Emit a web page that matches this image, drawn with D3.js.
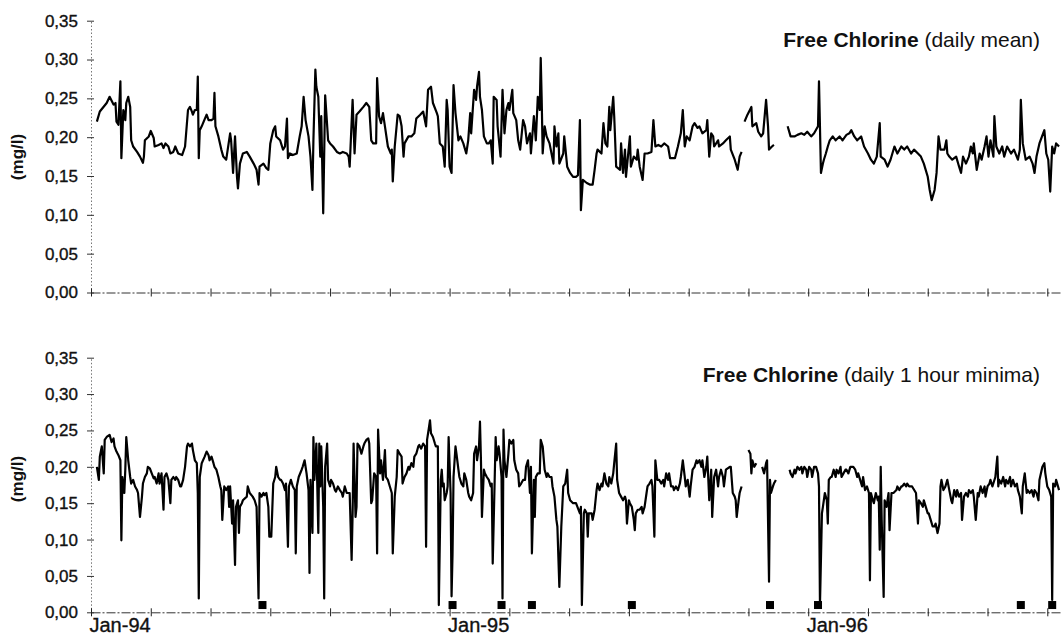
<!DOCTYPE html>
<html>
<head>
<meta charset="utf-8">
<script src="https://cdn.jsdelivr.net/npm/d3@7"></script>
<style>
  html, body { margin: 0; padding: 0; background: #fff; }
  svg { display: block; font-family: "Liberation Sans", Arial, Helvetica, sans-serif; }
</style>
</head>
<body>
<svg id="chart" width="1062" height="637"></svg>
<script>
// ---------------- DATA ----------------
// day offsets from 1 Jan 1994, values in mg/l
const startDate = "1994-01-01";

// Free chlorine, daily mean (three continuous segments)
const meanSeg1 = [[6,0.220],[9,0.233],[16,0.244],[19,0.252],[23,0.242],[25,0.244],[26,0.220],[28,0.216],[30,0.272],[31,0.173],[33,0.235],[35,0.222],[36,0.244],[38,0.252],[40,0.239],[41,0.196],[43,0.188],[47,0.181],[50,0.175],[53,0.167],[54,0.175],[55,0.196],[59,0.201],[61,0.208],[64,0.199],[65,0.188],[69,0.190],[72,0.192],[74,0.186],[76,0.192],[79,0.188],[81,0.179],[84,0.181],[86,0.188],[89,0.179],[93,0.177],[96,0.188],[99,0.235],[101,0.239],[103,0.233],[104,0.229],[106,0.235],[108,0.235],[109,0.278],[110,0.173],[111,0.209],[113,0.214],[115,0.220],[118,0.229],[120,0.222],[123,0.222],[125,0.224],[126,0.257],[127,0.214],[130,0.201],[133,0.184],[135,0.175],[138,0.171],[142,0.205],[143,0.196],[145,0.154],[147,0.201],[149,0.149],[150,0.134],[152,0.166],[155,0.179],[159,0.181],[162,0.175],[166,0.166],[169,0.158],[171,0.139],[172,0.162],[176,0.166],[179,0.160],[181,0.158],[183,0.192],[186,0.209],[188,0.214],[189,0.201],[193,0.196],[196,0.184],[198,0.188],[200,0.224],[201,0.173],[203,0.179],[206,0.177],[210,0.179],[213,0.201],[215,0.214],[217,0.252],[219,0.222],[222,0.201],[224,0.175],[226,0.132],[227,0.196],[229,0.287],[230,0.265],[232,0.252],[234,0.175],[235,0.227],[237,0.102],[239,0.254],[240,0.235],[242,0.196],[244,0.192],[247,0.188],[251,0.181],[254,0.179],[257,0.181],[261,0.179],[263,0.175],
[264,0.162],[267,0.248],[269,0.179],[271,0.229],[274,0.233],[278,0.239],[281,0.244],[284,0.239],[286,0.196],[288,0.192],[291,0.192],[292,0.276],[294,0.227],[296,0.218],[298,0.231],[300,0.214],[303,0.188],[306,0.179],[307,0.184],[308,0.143],[310,0.188],[313,0.229],[315,0.227],[317,0.214],[319,0.175],[320,0.192],[324,0.201],[327,0.201],[330,0.205],[332,0.224],[336,0.229],[339,0.233],[342,0.214],[344,0.261],[347,0.265],[349,0.244],[353,0.231],[354,0.227],[356,0.192],[359,0.188],[361,0.162],[363,0.248],[364,0.235],[366,0.162],[368,0.154],[370,0.267],[372,0.231],[375,0.196],[377,0.201],[380,0.192],[383,0.179],[385,0.196],[387,0.231],[388,0.205],[391,0.261],[393,0.248],[394,0.265],[396,0.284],[397,0.252],[399,0.235],[401,0.201],[404,0.192],[406,0.192],[408,0.196],[410,0.166],[411,0.252],[414,0.248],[415,0.214],[418,0.175],[420,0.261],[422,0.205],[424,0.235],[426,0.244],[427,0.235],[430,0.261],[431,0.231],[434,0.222],[436,0.196],[438,0.184],[441,0.222],[443,0.214],[445,0.192],[448,0.205],[449,0.179],[452,0.227],[454,0.196],[456,0.252],[458,0.235],[459,0.302],[460,0.248],[461,0.179],[463,0.214],[465,0.201],[468,0.192],[472,0.166],[473,0.214],[475,0.188],[477,0.205],[478,0.166],[482,0.179],[483,0.201],[486,0.162],[489,0.154],[492,0.149],[495,0.149],[497,0.151],[499,0.222],[500,0.106],[502,0.145],[506,0.141],[509,0.139],[512,0.139],[514,0.158],[516,0.179],[517,0.184],[521,0.179],[523,0.218],[525,0.192],[527,0.188],[529,0.239],[530,0.209],[533,0.252],[534,0.227],[536,0.162],[540,0.158],[541,0.192],[543,0.154],[545,0.184],[546,0.149],[550,0.201],[551,0.162],[554,0.175],[557,0.171],[558,0.184],[560,0.162],[563,0.145],[565,0.179],[568,0.179],[572,0.181],[574,0.222],[576,0.188],[579,0.190],[582,0.188],[585,0.192],[589,0.188],[591,0.173],[596,0.173],[599,0.188],[602,0.205],[604,0.235],[606,0.188],[608,0.201],[611,0.196],[614,0.214],[616,0.218],[619,0.212],
[621,0.214],[624,0.205],[628,0.209],[629,0.222],[631,0.175],[633,0.205],[635,0.201],[636,0.188],[640,0.196],[641,0.188],[645,0.192],[648,0.196],[652,0.201],[653,0.184],[657,0.171],[660,0.158],[662,0.175],[664,0.181]];
const meanSeg2 = [[667,0.220],[670,0.229],[674,0.239],[675,0.214],[679,0.218],[681,0.207],[684,0.201],[686,0.205],[689,0.248],[691,0.214],[692,0.184],[695,0.188],[697,0.190]];
const meanSeg3 = [[711,0.214],[714,0.201],[718,0.201],[721,0.203],[725,0.205],[728,0.203],[731,0.207],[735,0.201],[738,0.205],[742,0.214],[743,0.272],[745,0.154],[747,0.166],[748,0.171],[750,0.179],[752,0.188],[754,0.196],[757,0.201],[760,0.196],[764,0.201],[767,0.196],[771,0.203],[774,0.205],[776,0.209],[779,0.201],[782,0.196],[786,0.201],[789,0.188],[793,0.179],[796,0.171],[799,0.166],[802,0.175],[805,0.218],[806,0.175],[810,0.171],[813,0.162],[816,0.171],[820,0.188],[823,0.179],[827,0.188],[830,0.184],[833,0.188],[837,0.179],[840,0.184],[844,0.179],[847,0.175],[850,0.166],[854,0.149],[856,0.132],[858,0.119],[861,0.132],[863,0.154],[865,0.201],[867,0.184],[871,0.184],[873,0.196],[874,0.179],[876,0.175],[879,0.171],[883,0.175],[886,0.162],[888,0.154],[890,0.175],[893,0.166],[896,0.175],[898,0.188],[900,0.179],[901,0.192],[904,0.158],[907,0.179],[909,0.171],[912,0.188],[914,0.201],[916,0.175],[918,0.196],[921,0.175],[922,0.227],[924,0.188],[927,0.179],[930,0.188],[932,0.175],[935,0.188],[939,0.179],[942,0.184],[946,0.171],[948,0.184],[949,0.248],[951,0.192],[954,0.171],[958,0.175],[961,0.166],[963,0.154],[965,0.175],[968,0.192],[973,0.209],[975,0.179],[977,0.171],[979,0.130],[981,0.188],[983,0.179],[985,0.192],[988,0.188]];

// Free chlorine, daily 1 hour minima (four continuous segments)
const minSeg1 = [[6,0.200],[8,0.182],[9,0.214],[11,0.228],[13,0.191],[14,0.237],[16,0.241],[19,0.244],[21,0.234],[23,0.239],[24,0.228],[26,0.221],[28,0.216],[30,0.209],[31,0.099],[32,0.186],[34,0.164],[35,0.196],[36,0.241],[38,0.209],[40,0.186],[41,0.177],[43,0.182],[45,0.173],[47,0.168],[48,0.164],[50,0.131],[52,0.159],[53,0.177],[55,0.186],[57,0.191],[58,0.200],[60,0.198],[62,0.191],[64,0.184],[65,0.186],[67,0.177],[69,0.191],[70,0.177],[72,0.191],[74,0.141],[75,0.186],[77,0.191],[79,0.182],[81,0.150],[82,0.182],[84,0.186],[86,0.182],[87,0.186],[89,0.182],[91,0.173],[92,0.173],[94,0.182],[96,0.200],[98,0.228],[99,0.232],[101,0.228],[103,0.232],[104,0.223],[106,0.209],[108,0.205],[109,0.164],[110,0.019],[111,0.186],[113,0.205],[116,0.214],[118,0.221],[120,0.216],[121,0.209],[123,0.214],[125,0.205],[126,0.200],[128,0.196],[130,0.186],[132,0.173],[133,0.168],[134,0.127],[136,0.173],[138,0.168],[140,0.173],[141,0.145],[142,0.173],[144,0.122],[145,0.154],[147,0.065],[148,0.145],[150,0.154],[151,0.109],[152,0.145],[154,0.150],[155,0.154],[159,0.159],[160,0.173],[162,0.164],[165,0.159],[167,0.154],[169,0.145],[171,0.019],[172,0.164],[174,0.159],[176,0.164],[177,0.161],[179,0.164],[181,0.145],[182,0.104],[184,0.104],[186,0.177],[188,0.186],[189,0.200],[191,0.186],[193,0.182],[194,0.182],[196,0.177],[198,0.168],[199,0.177],[201,0.090],[202,0.173],[204,0.182],[206,0.173],[208,0.168],[209,0.081],[210,0.173],[212,0.186],[215,0.196],[216,0.200],[218,0.209],[220,0.191],[222,0.168],[223,0.054],[224,0.182],[226,0.109],[227,0.241],[228,0.182],[230,0.232],[232,0.109],[233,0.232],[234,0.173],[235,0.228],[237,0.145],[238,0.019],[239,0.200],[241,0.232],[242,0.182],[244,0.173],[245,0.182],[247,0.177],[249,0.168],[250,0.166],[252,0.173],[254,0.168],[256,0.164],[257,0.159],[259,0.173],[261,0.164],[262,0.164],
[264,0.164],[266,0.072],[267,0.136],[268,0.232],[270,0.131],[271,0.145],[272,0.232],[274,0.228],[276,0.218],[278,0.228],[279,0.232],[281,0.237],[283,0.239],[284,0.232],[286,0.150],[287,0.154],[289,0.191],[291,0.186],[292,0.081],[293,0.251],[295,0.191],[296,0.209],[298,0.182],[300,0.223],[301,0.186],[303,0.182],[305,0.173],[307,0.164],[308,0.081],[310,0.159],[312,0.186],[313,0.223],[315,0.218],[317,0.214],[318,0.177],[320,0.186],[322,0.191],[324,0.200],[325,0.196],[327,0.205],[329,0.200],[330,0.214],[332,0.218],[334,0.228],[335,0.230],[337,0.225],[339,0.232],[341,0.228],[342,0.090],[343,0.237],[345,0.255],[346,0.264],[347,0.246],[349,0.241],[351,0.232],[352,0.228],[354,0.228],[355,0.010],[357,0.182],[358,0.196],[359,0.173],[360,0.177],[361,0.154],[363,0.164],[364,0.173],[365,0.241],[367,0.164],[368,0.022],[369,0.081],[370,0.186],[372,0.228],[373,0.218],[375,0.196],[376,0.186],[378,0.177],[380,0.173],[381,0.191],[383,0.182],[385,0.164],[386,0.159],[388,0.154],[390,0.164],[391,0.218],[393,0.228],[394,0.209],[396,0.228],[397,0.262],[398,0.209],[399,0.131],[401,0.196],[402,0.191],[404,0.186],[406,0.182],[408,0.173],[409,0.177],[410,0.067],[412,0.182],[413,0.241],[414,0.209],[416,0.228],[417,0.218],[419,0.186],[420,0.019],[421,0.251],[422,0.209],[424,0.186],[426,0.218],[427,0.237],[429,0.232],[431,0.237],[432,0.209],[434,0.196],[436,0.191],[437,0.173],[439,0.177],[441,0.182],[443,0.182],[444,0.200],[446,0.209],[448,0.164],[449,0.200],[450,0.081],[452,0.182],[453,0.131],[454,0.186],[456,0.191],[458,0.191],[459,0.237],[461,0.228],[463,0.196],[465,0.186],[466,0.191],[468,0.186],[470,0.186],[471,0.173],[473,0.159],[475,0.127],[476,0.118],[478,0.035],[480,0.118],[481,0.145],[482,0.173],[484,0.177],[486,0.196],[487,0.164],[489,0.154],[492,0.150],[495,0.150],[499,0.136],[500,0.145],[501,0.010],[503,0.136],[504,0.141],[506,0.136],[507,0.104],[508,0.136],[511,0.136],[512,0.127],[514,0.141],[516,0.168],[517,0.177],[519,0.168],[521,0.177],[522,0.173],[524,0.191],[526,0.177],[528,0.173],[529,0.186],[531,0.177],[533,0.191],[534,0.205],[536,0.232],[537,0.182],[539,0.164],[541,0.159],[543,0.154],[545,0.159],[546,0.154],[547,0.122],[549,0.154],[550,0.150],[552,0.145],[554,0.127],[555,0.113],[556,0.136],[558,0.141],[560,0.141],[562,0.145],[563,0.136],[565,0.145],[567,0.164],[568,0.173],[570,0.177],[572,0.182],[573,0.173],[575,0.104],[576,0.209],[578,0.182],[580,0.182],[582,0.177],[584,0.182],[585,0.173],[587,0.191],[589,0.182],[590,0.191],[592,0.173],[594,0.173],[595,0.168],[597,0.173],[599,0.168],[601,0.177],[602,0.186],[604,0.209],[606,0.186],[607,0.173],[609,0.182],[611,0.159],[612,0.173],[614,0.196],[616,0.200],[618,0.209],[619,0.205],
[621,0.209],[623,0.200],[624,0.209],[626,0.186],[628,0.200],[629,0.214],[631,0.154],[633,0.196],[634,0.131],[636,0.186],[638,0.196],[640,0.173],[641,0.186],[643,0.196],[645,0.186],[646,0.173],[648,0.196],[652,0.200],[653,0.200],[655,0.164],[657,0.159],[658,0.154],[659,0.131],[661,0.154],[662,0.164],[664,0.173]];
const minSeg2 = [[671,0.223],[673,0.218],[674,0.191],[675,0.209],[677,0.200],[679,0.205]];
const minSeg3 = [[685,0.200],[687,0.191],[689,0.205],[690,0.209],[692,0.042],[693,0.182],[694,0.164],[696,0.173],[697,0.177],[699,0.182]];
const minSeg4 = [[713,0.196],[714,0.191],[716,0.186],[718,0.196],[719,0.191],[721,0.200],[723,0.196],[725,0.200],[726,0.191],[728,0.200],[730,0.196],[731,0.186],[733,0.200],[735,0.196],[736,0.186],[738,0.200],[740,0.200],[742,0.191],[743,0.173],[744,0.010],[746,0.136],[747,0.145],[749,0.164],[751,0.154],[752,0.122],[753,0.182],[755,0.186],[756,0.186],[758,0.196],[760,0.186],[761,0.196],[763,0.191],[765,0.200],[766,0.186],[768,0.191],[770,0.196],[771,0.196],[773,0.191],[775,0.200],[777,0.200],[778,0.200],[780,0.196],[782,0.186],[783,0.191],[785,0.182],[787,0.173],[788,0.186],[790,0.168],[792,0.173],[794,0.164],[795,0.044],[796,0.164],[798,0.154],[799,0.150],[801,0.164],[803,0.154],[804,0.159],[805,0.086],[806,0.200],[807,0.127],[809,0.021],[810,0.154],[812,0.145],[814,0.164],[815,0.113],[817,0.164],[819,0.164],[822,0.168],[823,0.173],[825,0.168],[827,0.173],[828,0.173],[830,0.177],[832,0.173],[833,0.177],[835,0.173],[838,0.173],[842,0.164],[844,0.122],[845,0.154],[847,0.150],[849,0.145],[850,0.154],[852,0.145],[854,0.136],[855,0.136],[857,0.127],[859,0.118],[861,0.118],[862,0.122],[864,0.109],[866,0.122],[867,0.173],[868,0.182],[870,0.168],[872,0.173],[874,0.182],[876,0.168],[878,0.154],[879,0.150],[881,0.168],[883,0.159],[884,0.168],[886,0.159],[888,0.164],[889,0.127],[891,0.159],[893,0.164],[895,0.159],[896,0.168],[898,0.164],[900,0.168],[901,0.159],[903,0.127],[905,0.164],[906,0.159],[908,0.173],[910,0.164],[912,0.173],[913,0.159],[915,0.173],[917,0.177],[918,0.182],[920,0.173],[923,0.186],[925,0.214],[926,0.173],[927,0.182],[929,0.177],[931,0.186],[933,0.173],[934,0.182],[936,0.177],[938,0.186],[939,0.173],[941,0.182],[943,0.173],[945,0.177],[946,0.168],[948,0.159],[950,0.136],[951,0.173],[953,0.191],[955,0.164],[956,0.168],[958,0.164],[960,0.168],[962,0.159],[963,0.168],[965,0.164],[967,0.154],[968,0.182],[971,0.200],[973,0.205],[974,0.191],[976,0.173],[978,0.168],[980,0.159],[981,0.017],[982,0.177],[984,0.173],[985,0.182],[987,0.173],[988,0.168]];

// black square markers in the minima panel
const markerDays = [175, 369, 419, 450, 552, 693, 742, 949, 981];
const markerValue = 0.01;

const yTickValues = [0, 0.05, 0.10, 0.15, 0.20, 0.25, 0.30, 0.35];
const xTickStepDays = 61;
const titleTop = ["Free Chlorine", " (daily mean)"];
const titleBottom = ["Free Chlorine", " (daily 1 hour minima)"];
const yLabel = "(mg/l)";

// ---------------- CHART ----------------
const svg = d3.select("#chart");
const t0 = new Date(startDate + "T00:00:00Z");
const toDate = d => d3.utcDay.offset(t0, d);

const x = d3.scaleUtc()
  .domain([t0, toDate(990)])
  .range([91, 1061]);

const locale = d3.formatLocale({decimal: ",", thousands: ".", grouping: [3], currency: ["", ""]});
const fmtY = locale.format(".2f");
const fmtX = d3.utcFormat("%b-%y");

const xTicks = d3.range(0, 990, xTickStepDays).map(toDate);

function drawPanel(cfg) {
  const g = svg.append("g");
  const y = d3.scaleLinear().domain([0, 0.35]).range([cfg.y0, cfg.y1]);

  // y axis
  const ya = g.append("g").attr("transform", `translate(91,0)`)
    .call(d3.axisLeft(y).tickValues(yTickValues).tickFormat(fmtY).tickSize(4).tickSizeOuter(0).tickPadding(9));
  ya.select(".domain").attr("stroke", "#777").attr("stroke-dasharray", "1.5,2");
  ya.selectAll(".tick line").attr("x1", 3).attr("stroke", "#333");
  ya.selectAll(".tick text").attr("font-size", 17).attr("fill", "#111")
    .attr("stroke", "#111").attr("stroke-width", 0.35)
    .attr("font-family", "Liberation Sans, Arial, sans-serif");

  // x axis
  const xa = g.append("g").attr("transform", `translate(0,${cfg.y0})`)
    .call(d3.axisBottom(x).tickValues(xTicks).tickSize(4).tickSizeOuter(0).tickPadding(1.5)
      .tickFormat((d, i) => (cfg.xLabels && i % 6 === 0) ? fmtX(d) : ""));
  xa.select(".domain").attr("stroke", "#333").attr("stroke-dasharray", "9,2,2,2");
  xa.selectAll(".tick line").attr("y1", -4).attr("stroke", "#222");
  xa.selectAll(".tick text").attr("font-size", 20).attr("fill", "#111")
    .attr("stroke", "#111").attr("stroke-width", 0.35)
    .attr("text-anchor", "start").attr("x", -2)
    .attr("font-family", "Liberation Sans, Arial, sans-serif");

  // y label
  g.append("text")
    .attr("transform", `translate(23,${cfg.labelY}) rotate(-90)`)
    .attr("text-anchor", "middle")
    .attr("font-size", 17).attr("font-weight", "bold").attr("fill", "#111")
    .text(yLabel);

  // title
  const tt = g.append("text").attr("x", 1040).attr("y", cfg.titleY)
    .attr("text-anchor", "end").attr("font-size", 21).attr("fill", "#111");
  tt.append("tspan").attr("font-weight", "bold").text(cfg.title[0]);
  tt.append("tspan").text(cfg.title[1]);

  // lines
  const line = d3.line().x(d => x(toDate(d[0]))).y(d => y(d[1]));
  cfg.segments.forEach(seg => {
    g.append("path").datum(seg)
      .attr("d", line)
      .attr("fill", "none").attr("stroke", "#000")
      .attr("stroke-width", 2.2).attr("stroke-linejoin", "round");
  });

  // markers
  if (cfg.markers) {
    g.selectAll("rect.mk").data(cfg.markers).join("rect")
      .attr("x", d => x(toDate(d)) - 4)
      .attr("y", y(markerValue) - 4)
      .attr("width", 8).attr("height", 8)
      .attr("fill", "#000");
  }
}

drawPanel({
  y0: 292.5, y1: 20.7, labelY: 157, titleY: 47,
  title: titleTop, segments: [meanSeg1, meanSeg2, meanSeg3], xLabels: false
});
drawPanel({
  y0: 612.3, y1: 357.7, labelY: 479, titleY: 382,
  title: titleBottom, segments: [minSeg1, minSeg2, minSeg3, minSeg4], xLabels: true, markers: markerDays
});
</script>
</body>
</html>
